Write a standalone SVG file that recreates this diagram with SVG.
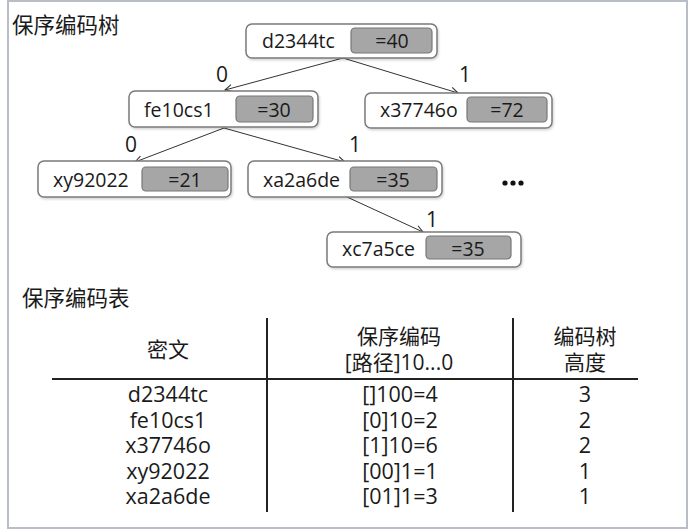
<svg xmlns="http://www.w3.org/2000/svg" width="689" height="530" viewBox="0 0 689 530">
<defs>
<marker id="arr" viewBox="0 0 10 10" refX="9" refY="5" markerWidth="9" markerHeight="9" markerUnits="userSpaceOnUse" orient="auto">
<path d="M1,1 L9,5 L1,9" fill="none" stroke="#333" stroke-width="1.2"/>
</marker>
<filter id="sh" x="-5%" y="-10%" width="112%" height="130%">
<feDropShadow dx="1" dy="1.5" stdDeviation="1" flood-color="#000" flood-opacity="0.18"/>
</filter>
</defs>
<style>
text{font-family:"Open Sans","Noto Sans CJK SC",sans-serif;fill:#1a1a1a}
.box{fill:#fff;stroke:#7a7a7a;stroke-width:1.5;filter:url(#sh)}
.val{fill:#a6a6a6;stroke:#777;stroke-width:1.2}
.nt{font-size:19.5px}
.vt{font-size:19.5px;text-anchor:middle}
.el{font-size:21px}
.ttl{font-size:21.5px}
.th{font-size:21px;text-anchor:middle}
.td{font-size:21.5px;text-anchor:middle}
.edge{stroke:#333;stroke-width:1;fill:none;marker-end:url(#arr)}
.tl{stroke:#222;stroke-width:2}
</style>
<rect x="0" y="0" width="689" height="530" fill="#fff"/>
<rect x="8" y="1" width="679" height="527" fill="#fff" stroke="#b9bdc8" stroke-width="2"/>

<text class="ttl" x="12" y="33">保序编码树</text>

<g id="connectors">
<line class="edge" x1="343" y1="58" x2="225" y2="90"/>
<line class="edge" x1="343" y1="58" x2="458" y2="93"/>
<line class="edge" x1="224" y1="128" x2="135" y2="162"/>
<line class="edge" x1="224" y1="128" x2="345" y2="162"/>
<line class="edge" x1="347" y1="197" x2="423" y2="232"/>
<text class="el" x="216" y="82">0</text>
<text class="el" x="459" y="82">1</text>
<text class="el" x="125" y="152">0</text>
<text class="el" x="349" y="152">1</text>
<text class="el" x="426" y="227">1</text>
</g>

<g id="n-d2344tc">
<rect class="box" x="246" y="24" width="191" height="34" rx="6"/>
<rect class="val" x="351" y="28" width="81" height="25" rx="4"/>
<text class="nt" x="262" y="48">d2344tc</text>
<text class="vt" x="392" y="48">=40</text>
</g>

<g id="n-fe10cs1">
<rect class="box" x="129" y="91" width="189" height="36" rx="6"/>
<rect class="val" x="236" y="96" width="77" height="26" rx="4"/>
<text class="nt" x="144" y="117">fe10cs1</text>
<text class="vt" x="274" y="117">=30</text>
</g>

<g id="n-x37746o">
<rect class="box" x="365" y="93" width="187" height="35" rx="6"/>
<rect class="val" x="467" y="97" width="80" height="25" rx="4"/>
<text class="nt" x="380" y="117">x37746o</text>
<text class="vt" x="507" y="117">=72</text>
</g>

<g id="n-xy92022">
<rect class="box" x="38" y="161" width="193" height="36" rx="6"/>
<rect class="val" x="142" y="167" width="86" height="24" rx="4"/>
<text class="nt" x="53" y="187">xy92022</text>
<text class="vt" x="185" y="187">=21</text>
</g>

<g id="n-xa2a6de">
<rect class="box" x="248" y="161" width="194" height="36" rx="6"/>
<rect class="val" x="350" y="167" width="87" height="24" rx="4"/>
<text class="nt" x="263" y="187">xa2a6de</text>
<text class="vt" x="393" y="187">=35</text>
</g>

<g id="n-xc7a5ce">
<rect class="box" x="327" y="232" width="194" height="35" rx="6"/>
<rect class="val" x="426" y="236" width="85" height="23" rx="4"/>
<text class="nt" x="342" y="256">xc7a5ce</text>
<text class="vt" x="468" y="256">=35</text>
</g>

<g id="n-more" fill="#111">
<circle cx="505" cy="183" r="2.6"/>
<circle cx="513" cy="183" r="2.6"/>
<circle cx="521" cy="183" r="2.6"/>
</g>

<g id="table">
<text class="ttl" x="22" y="306">保序编码表</text>
<line class="tl" x1="267" y1="318" x2="267" y2="512"/>
<line class="tl" x1="513" y1="318" x2="513" y2="512"/>
<line class="tl" x1="52" y1="379" x2="638" y2="379"/>
<text class="th" x="168" y="357">密文</text>
<text class="th" x="399" y="344">保序编码</text>
<text class="th" x="399" y="370">[路径]10...0</text>
<text class="th" x="585" y="344">编码树</text>
<text class="th" x="585" y="370">高度</text>
<text class="td" x="168" y="402">d2344tc</text>
<text class="td" x="168" y="427.5">fe10cs1</text>
<text class="td" x="168" y="453">x37746o</text>
<text class="td" x="168" y="478.5">xy92022</text>
<text class="td" x="168" y="504">xa2a6de</text>
<text class="td" x="400" y="402">[]100=4</text>
<text class="td" x="400" y="427.5">[0]10=2</text>
<text class="td" x="400" y="453">[1]10=6</text>
<text class="td" x="400" y="478.5">[00]1=1</text>
<text class="td" x="400" y="504">[01]1=3</text>
<text class="td" x="585" y="402">3</text>
<text class="td" x="585" y="427.5">2</text>
<text class="td" x="585" y="453">2</text>
<text class="td" x="585" y="478.5">1</text>
<text class="td" x="585" y="504">1</text>
</g>
</svg>
